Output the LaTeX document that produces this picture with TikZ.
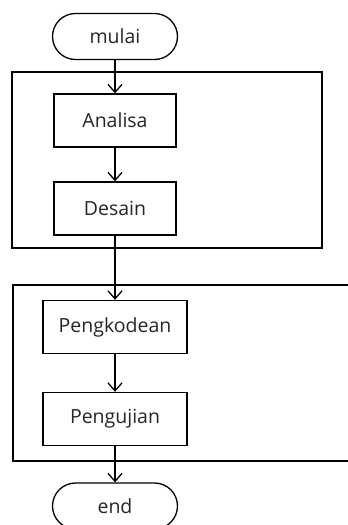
\documentclass[tikz,border=0pt]{standalone}
\usepackage{fontspec}
\setmainfont{Open Sans}
\usetikzlibrary{arrows.meta}
\tikzset{
  terminal/.style={draw, rounded corners=23pt, minimum width=125pt, minimum height=46pt, inner sep=0pt},
  process/.style={draw, minimum height=53pt, inner sep=0pt},
  groupbox/.style={draw, minimum height=176pt, inner sep=0pt},
  flow/.style={-{Straight Barb[length=8pt,width=14pt,line width=1.3pt]}},
}
\begin{document}
\begin{tikzpicture}[x=1pt, y=-1pt, line width=1.3pt,
    every node/.style={font=\fontsize{19.5}{23}\selectfont, text=black!85}]
  \clip (0,0) rectangle (348,525);
  \fill[white] (0,0) rectangle (348,525);
  % group boxes
  \node[groupbox, minimum width=310pt] (fase1) at (167,160) {};
  \node[groupbox, minimum width=360pt] (fase2) at (193,373) {};
  % steps
  \node[terminal] (mulai) at (115,36.5) {mulai};
  \node[process, minimum width=122pt] (analisa) at (115,120.5) {Analisa};
  \node[process, minimum width=122pt] (desain) at (115,208.5) {Desain};
  \node[process, minimum width=144pt] (kode) at (115,327) {Pengkodean};
  \node[process, minimum width=144pt] (uji) at (115,419) {Pengujian};
  \node[terminal] (end) at (115,506) {end};
  % arrows
  \draw[flow] (mulai) -- (analisa);
  \draw[flow] (analisa) -- (desain);
  \draw[flow] (desain) -- (kode);
  \draw[flow] (kode) -- (uji);
  \draw[flow] (uji) -- (end);
\end{tikzpicture}
\end{document}
